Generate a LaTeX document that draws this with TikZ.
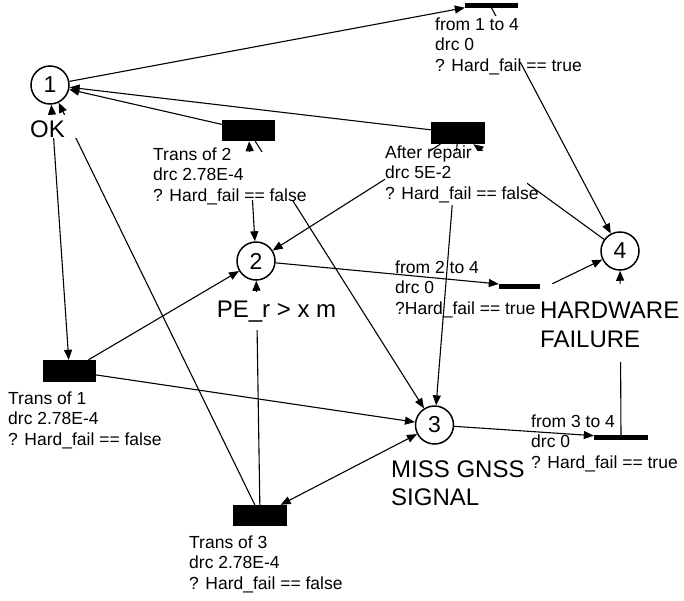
\documentclass[tikz,border=0pt]{standalone}
\usepackage{fontspec}
\setmainfont{Liberation Sans}
\usetikzlibrary{arrows.meta}
\begin{document}
\begin{tikzpicture}[x=1pt,y=-1pt,
  place/.style={circle,draw,line width=1.5pt,minimum size=38pt,inner sep=0pt,font=\fontsize{23}{23}\selectfont},
  trans/.style={rectangle,fill=black,inner sep=0pt,minimum width=53pt,minimum height=21pt},
  bar/.style={rectangle,fill=black,inner sep=0pt,minimum width=53pt,minimum height=5pt},
  arc/.style={line width=1.1pt,-{Triangle[length=10pt,width=8pt]}},
  biarc/.style={line width=1.1pt,{Triangle[length=10pt,width=8pt]}-{Triangle[length=10pt,width=8pt]}},
  small/.style={inner sep=0pt,anchor=base west,font=\fontsize{17.5}{20.5}\selectfont},
  big/.style={inner sep=0pt,font=\fontsize{24}{29}\selectfont},
  mask/.style={fill=white}
]
\fill[white] (0,0) rectangle (684,600);
\useasboundingbox (0,0) rectangle (684,600);

% places
\node[place] (P1) at (50,85) {1};
\node[place] (P2) at (256,261) {2};
\node[place] (P3) at (434.5,425) {3};
\node[place] (P4) at (620,251) {4};

% transitions
\node[bar] (T14) at (491.5,5) {};
\node[trans] (T2) at (248.5,130.5) {};
\node[trans,minimum width=54pt,minimum height=22pt] (TAR) at (458,133) {};
\node[trans,minimum height=22pt] (T1) at (69.5,371) {};
\node[bar] (T24) at (525.5,286.5) {};
\node[bar,minimum width=54pt] (T34) at (621,437.5) {};
\node[trans,minimum width=54pt] (T3) at (260,515.5) {};

% arcs
\draw[arc] (P1) -- (T14.south west);
\draw[arc] (T14.south) -- (P4);
\draw[biarc] (P1) -- (T1);
\draw[arc] (T3) -- (P1);
\draw[arc] (T3) -- (P2);
\draw[biarc] (T3) -- (P3);
\draw[arc] (T1) -- (P2);
\draw[arc] (T1) -- (P3);
\draw[arc] (T2) -- (P1);
\draw[biarc] (T2) -- (P2);
\draw[arc] (T2) -- (P3);
\draw[arc] (TAR) -- (P1);
\draw[arc] (TAR) -- (P2);
\draw[arc] (TAR) -- (P3);
\draw[arc] (P4) -- (TAR);
\draw[arc] (P2) -- (T24);
\draw[arc] (T24.north east) -- (P4);
\draw[arc] (P3) -- (T34);
\draw[arc] (T34) -- (P4);

% labels
\node[small,mask,text height=14pt,text depth=32pt] (L14) at (435,30)
  {\begin{tabular}[t]{@{}l@{}}from 1 to 4\\drc 0\\? Hard\_fail == true\end{tabular}};
\node[small,mask,text height=8pt,text depth=40pt] (L2) at (153,160)
  {\begin{tabular}[t]{@{}l@{}}Trans of 2\\drc 2.78E-4\\? Hard\_fail == false\end{tabular}};
\node[small,mask,text height=7pt,text depth=47pt] (LAR) at (385,158)
  {\makebox[142pt][l]{\begin{tabular}[t]{@{}l@{}}After repair\\drc 5E-2\\? Hard\_fail == false\end{tabular}}};
\node[small] (L24) at (395,273)
  {\begin{tabular}[t]{@{}l@{}}from 2 to 4\\drc 0\\?Hard\_fail == true\end{tabular}};
\node[small] (L1) at (8,404)
  {\begin{tabular}[t]{@{}l@{}}Trans of 1\\drc 2.78E-4\\? Hard\_fail == false\end{tabular}};
\node[small] (L34) at (531,427)
  {\begin{tabular}[t]{@{}l@{}}from 3 to 4\\drc 0\\? Hard\_fail == true\end{tabular}};
\node[small] (L3) at (189,548)
  {\begin{tabular}[t]{@{}l@{}}Trans of 3\\drc 2.78E-4\\? Hard\_fail == false\end{tabular}};

\node[big,mask,anchor=base,minimum width=61pt,text height=22pt,text depth=1pt] (OK) at (47.5,137) {OK};
\node[big,mask,anchor=base,minimum width=121pt,text height=25pt,text depth=13pt] (PE) at (276.5,317) {PE\_r > x m};
\node[big,mask,anchor=base west,text height=34pt,text depth=44pt] (HW) at (540,318)
  {\begin{tabular}[t]{@{}l@{}}HARDWARE\\FAILURE\end{tabular}};
\node[big,anchor=base west,font=\fontsize{24}{28}\selectfont] (MISS) at (391,477)
  {\begin{tabular}[t]{@{}l@{}}MISS GNSS\\SIGNAL\end{tabular}};
\end{tikzpicture}
\end{document}
